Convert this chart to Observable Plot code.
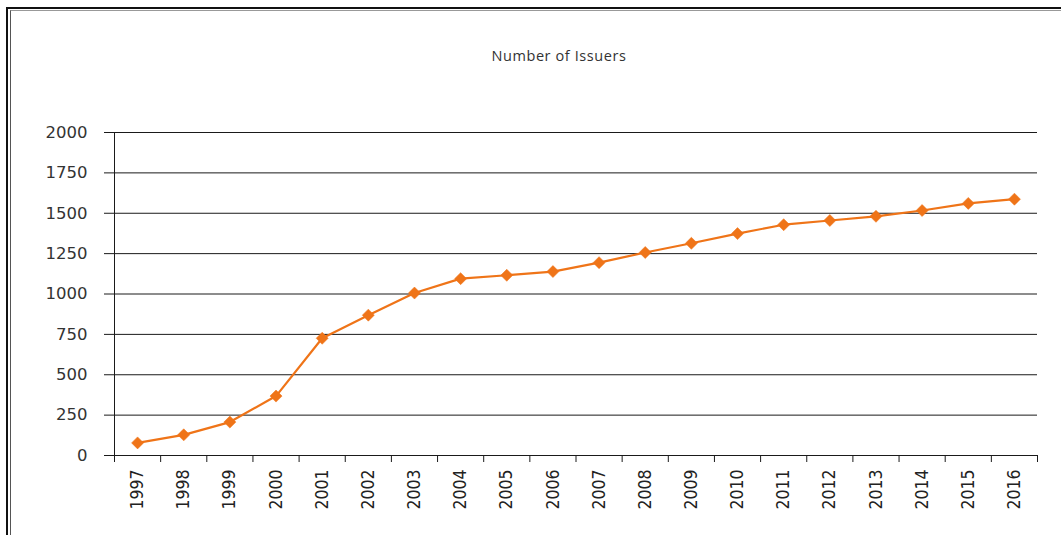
<!DOCTYPE html>
<html>
<head>
<meta charset="utf-8">
<script src="https://cdn.jsdelivr.net/npm/d3@7"></script>
<script src="https://cdn.jsdelivr.net/npm/@observablehq/plot@0.6"></script>
<style>
  html, body { margin: 0; padding: 0; background: #fff; }
  #wrap { position: relative; width: 1061px; height: 535px; overflow: hidden; background: #fff; }
  #frame1 { position: absolute; left: 6px; top: 7px; width: 1200px; height: 600px;
            border-left: 2px solid #111; border-top: 2px solid #111; }
  #frame2 { position: absolute; left: 10px; top: 10px; width: 1200px; height: 600px;
            border-left: 1px solid #555; border-top: 1px solid #999; }
  #title { position: absolute; left: 0; width: 1118px; top: 46px; text-align: center;
           font-family: "Open Sans", sans-serif; font-size: 14.5px; letter-spacing: 0.6px; color: #333; }
  #chart { position: absolute; left: 0; top: 0; }
</style>
</head>
<body>
<div id="wrap">
  <div id="frame1"></div>
  <div id="frame2"></div>
  <div id="chart"></div>
  <div id="title">Number of Issuers</div>
</div>
<script>
const years = [1997, 1998, 1999, 2000, 2001, 2002, 2003, 2004, 2005, 2006,
               2007, 2008, 2009, 2010, 2011, 2012, 2013, 2014, 2015, 2016];
const issuers = [78, 128, 207, 368, 726, 869, 1006, 1095, 1116, 1139,
                 1194, 1257, 1314, 1374, 1429, 1455, 1481, 1517, 1561, 1587];
const yTicks = [0, 250, 500, 750, 1000, 1250, 1500, 1750, 2000];

const data = years.map((y, i) => ({year: y, value: issuers[i]}));
const boundaries = years.map(y => y - 0.5).concat([years[years.length - 1] + 0.5]);
const orange = "#ef7418";

const chart = Plot.plot({
  width: 1061,
  height: 535,
  marginLeft: 114,
  marginRight: 24,
  marginTop: 132,
  marginBottom: 80,
  style: {background: "transparent", overflow: "visible"},
  x: {type: "linear", domain: [boundaries[0], boundaries[boundaries.length - 1]]},
  y: {domain: [0, 2000]},
  marks: [
    Plot.ruleY(yTicks, {stroke: "#1a1a1a", strokeWidth: 1, strokeOpacity: 1}),
    Plot.axisY({ticks: yTicks, tickSize: 10, tickPadding: 17, label: null,
                tickFormat: d => String(d),
                fontFamily: "DejaVu Sans", fontSize: 16.5, fill: "#333",
                stroke: "#1a1a1a", strokeOpacity: 1}),
    Plot.ruleX([boundaries[0]], {y1: 0, y2: 2000, stroke: "#1a1a1a", strokeOpacity: 1}),
    Plot.axisX({ticks: boundaries, tickSize: 7, tickFormat: () => "", label: null,
                stroke: "#1a1a1a", strokeOpacity: 1}),
    Plot.axisX({ticks: years, tickSize: 0, tickPadding: 14, tickRotate: -90, label: null,
                tickFormat: d => String(d),
                fontFamily: "'Liberation Sans Narrow', 'Arial Narrow', 'DejaVu Sans Condensed', sans-serif",
                fontSize: 17.5, fill: "#222"}),
    Plot.line(data, {x: "year", y: "value", stroke: orange, strokeWidth: 2.2}),
    Plot.dot(data, {x: "year", y: "value", symbol: "square", rotate: 45, r: 4.8,
                    fill: orange, stroke: orange, strokeWidth: 0.5})
  ]
});
document.getElementById("chart").appendChild(chart);
</script>
</body>
</html>
